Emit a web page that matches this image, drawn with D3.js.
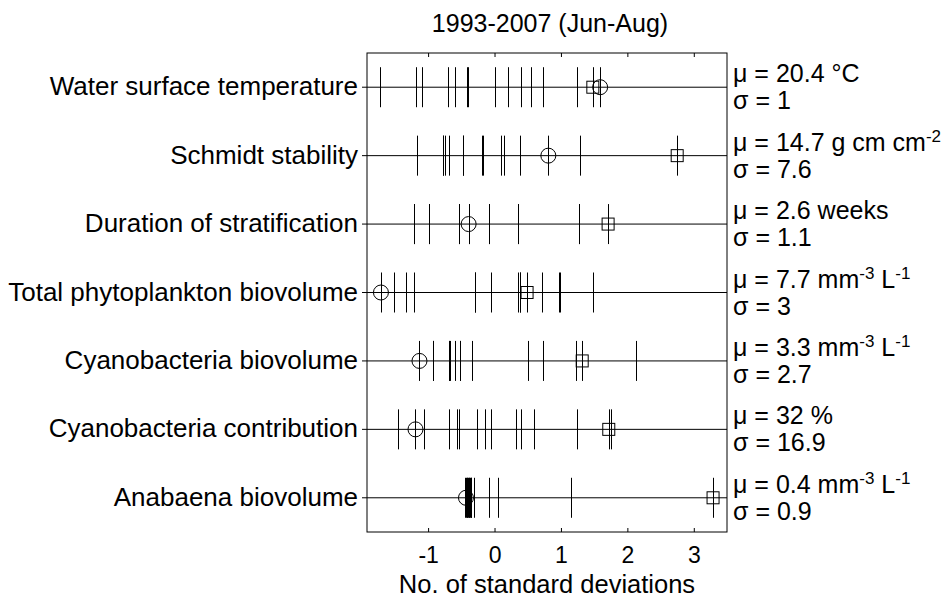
<!DOCTYPE html>
<html>
<head>
<meta charset="utf-8">
<script src="https://cdn.jsdelivr.net/npm/d3@7"></script>
<style>
  body { margin: 0; background: #fff; }
  text { font-family: "Liberation Sans", Arial, sans-serif; fill: #000; }
</style>
</head>
<body>
<div id="chart"></div>
<script>
    "use strict";

    // variables, top to bottom
    var rowLabels = [
        "Water surface temperature",
        "Schmidt stability",
        "Duration of stratification",
        "Total phytoplankton biovolume",
        "Cyanobacteria biovolume",
        "Cyanobacteria contribution",
        "Anabaena biovolume"
    ];

    // mean / sd annotation, ^{..} marks a superscript
    var meanLabels = [
        "20.4 °C",
        "14.7 g cm cm^{-2}",
        "2.6 weeks",
        "7.7 mm^{-3} L^{-1}",
        "3.3 mm^{-3} L^{-1}",
        "32 %",
        "0.4 mm^{-3} L^{-1}"
    ];
    var sdLabels = ["1", "7.6", "1.1", "3", "2.7", "16.9", "0.9"];

    // standardised yearly values (1993-2007), one list per variable
    var yearValues = [
        [-1.72, -1.18, -1.09, -0.70, -0.60, -0.41, -0.40, 0.01, 0.20, 0.40, 0.55, 0.73, 1.24, 1.48, 1.59],
        [-1.16, -0.78, -0.77, -0.74, -0.68, -0.48, -0.47, -0.19, -0.18, 0.09, 0.14, 0.38, 0.81, 1.29, 2.75],
        [-1.21, -1.21, -0.98, -0.54, -0.54, -0.39, -0.39, -0.09, -0.09, 0.36, 0.36, 1.27, 1.27, 1.71, -0.98],
        [-1.71, -1.52, -1.33, -1.21, -0.29, -0.06, 0.36, 0.39, 0.49, 0.71, 0.97, 0.98, 1.49, 0.38, -0.29],
        [-1.13, -0.92, -0.68, -0.67, -0.59, -0.52, -0.34, 0.50, 0.73, 1.23, 1.32, 2.13, -0.68, -0.52, -0.92],
        [-1.45, -1.19, -1.06, -0.69, -0.57, -0.54, -0.26, -0.14, -0.06, 0.32, 0.40, 0.60, 1.24, 1.72, 1.75],
        [-0.44, -0.43, -0.42, -0.41, -0.40, -0.39, -0.38, -0.37, -0.36, -0.35, -0.31, -0.08, 0.05, 1.15, 3.29]
    ];

    // highlighted years
    var circleValues = [1.59, 0.81, -0.39, -1.71, -1.13, -1.19, -0.43];
    var squareValues = [1.48, 2.75, 1.71, 0.49, 1.32, 1.72, 3.29];

    var xTicks = [-1, 0, 1, 2, 3];

    var width = 951, height = 599;
    var margin = { top: 53, right: 224, bottom: 67, left: 367 };

    var svg = d3.select("#chart")
        .append("svg")
        .attr("width", width)
        .attr("height", height);

    var x = d3.scaleLinear()
        .domain([-1.92, 3.5])
        .range([margin.left, width - margin.right]);

    var y = d3.scaleBand()
        .domain(rowLabels)
        .range([margin.top, height - margin.bottom]);

    var rowY = function (d) {
        return y(d) + y.bandwidth() / 2;
    };
    var halfTick = 20;

    // title
    svg.append("text")
        .attr("x", 550)
        .attr("y", 32)
        .attr("text-anchor", "middle")
        .style("font-size", "25px")
        .text("1993-2007 (Jun-Aug)");

    // frame
    svg.append("rect")
        .attr("x", x.range()[0])
        .attr("y", margin.top)
        .attr("width", x.range()[1] - x.range()[0])
        .attr("height", height - margin.bottom - margin.top)
        .attr("fill", "none")
        .attr("stroke", "#000")
        .attr("stroke-width", 1);

    // x axes (inner ticks top and bottom)
    var bottomAxis = svg.append("g")
        .attr("transform", "translate(0," + (height - margin.bottom) + ")")
        .call(d3.axisBottom(x).tickValues(xTicks).tickSizeInner(-4).tickSizeOuter(0)
            .tickPadding(15).tickFormat(function (d) { return String(d); }));
    bottomAxis.select(".domain").remove();
    bottomAxis.selectAll("text").style("font-size", "23px");

    var topAxis = svg.append("g")
        .attr("transform", "translate(0," + margin.top + ")")
        .call(d3.axisTop(x).tickValues(xTicks).tickSizeInner(-4).tickSizeOuter(0).tickFormat(""));
    topAxis.select(".domain").remove();

    // y axis with the variable names
    var leftAxis = svg.append("g")
        .attr("transform", "translate(" + x.range()[0] + ",0)")
        .call(d3.axisLeft(y).tickSize(5).tickSizeOuter(0).tickPadding(4));
    leftAxis.select(".domain").remove();
    leftAxis.selectAll("text")
        .attr("dy", "8")
        .style("font-size", "26px");

    bottomAxis.selectAll("line").attr("stroke", "#000");

    // x label
    svg.append("text")
        .attr("x", 547)
        .attr("y", 593)
        .attr("text-anchor", "middle")
        .style("font-size", "25.5px")
        .text("No. of standard deviations");

    var rows = svg.append("g")
        .selectAll("g")
        .data(rowLabels)
        .enter()
        .append("g");

    // base line of each row
    rows.append("line")
        .attr("x1", x.range()[0])
        .attr("x2", x.range()[1])
        .attr("y1", rowY)
        .attr("y2", rowY)
        .attr("stroke", "#000");

    // one vertical mark per year
    rows.selectAll("line.year")
        .data(function (d, i) {
            return yearValues[i].map(function (v) { return { v: v, row: d }; });
        })
        .enter()
        .append("line")
        .attr("class", "year")
        .attr("x1", function (d) { return Math.round(x(d.v)) + 0.5; })
        .attr("x2", function (d) { return Math.round(x(d.v)) + 0.5; })
        .attr("y1", function (d) { return rowY(d.row) - halfTick; })
        .attr("y2", function (d) { return rowY(d.row) + halfTick; })
        .attr("stroke", "#000");

    rows.append("circle")
        .attr("cx", function (d, i) { return x(circleValues[i]); })
        .attr("cy", rowY)
        .attr("r", 7.5)
        .attr("fill", "none")
        .attr("stroke", "#000");

    rows.append("rect")
        .attr("x", function (d, i) { return x(squareValues[i]) - 6; })
        .attr("y", function (d) { return rowY(d) - 6; })
        .attr("width", 12)
        .attr("height", 12)
        .attr("fill", "none")
        .attr("stroke", "#000");

    // mean / sd annotation on the right
    var addRich = function (sel, str) {
        var parts = str.split(/(\^\{[^}]*\})/);
        parts.forEach(function (p) {
            if (!p) {
                return;
            }
            if (p.charAt(0) === "^") {
                sel.append("tspan")
                    .attr("baseline-shift", "super")
                    .style("font-size", "17px")
                    .text(p.slice(2, -1));
            } else {
                sel.append("tspan").text(p);
            }
        });
    };

    rows.append("text")
        .attr("x", x.range()[1] + 6)
        .attr("y", function (d) { return rowY(d) - 5; })
        .style("font-size", "25px")
        .each(function (d, i) {
            addRich(d3.select(this), "\u03bc = " + meanLabels[i]);
        });

    rows.append("text")
        .attr("x", x.range()[1] + 6)
        .attr("y", function (d) { return rowY(d) + 22; })
        .style("font-size", "25px")
        .text(function (d, i) { return "\u03c3 = " + sdLabels[i]; });
</script>
</body>
</html>
